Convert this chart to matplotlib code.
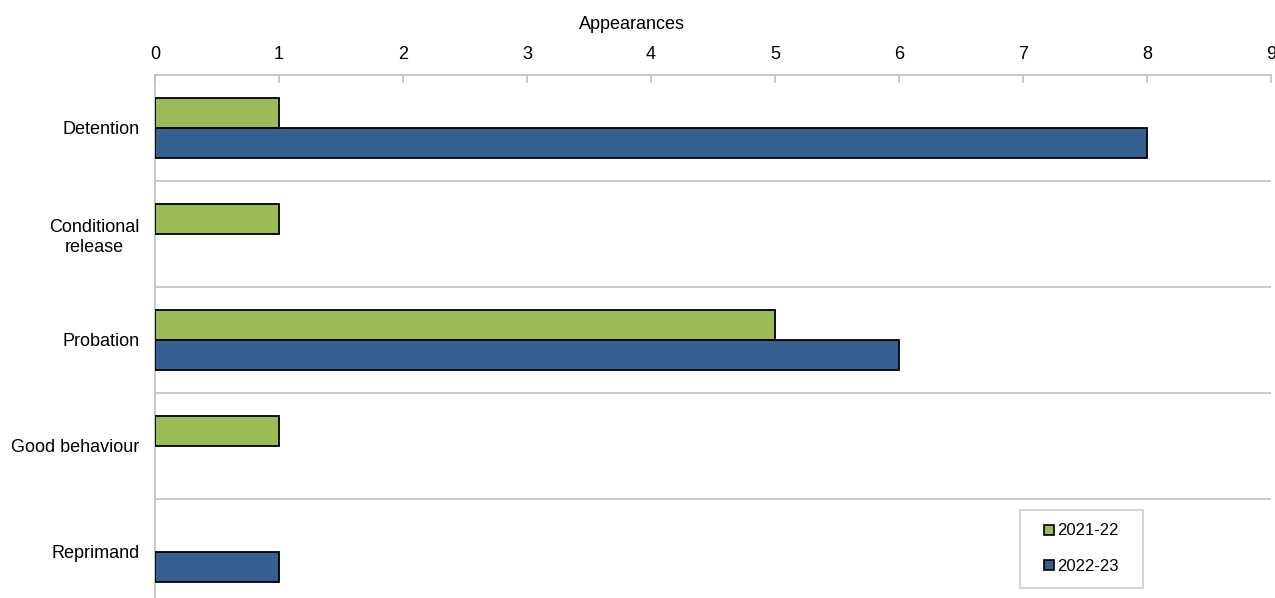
import numpy as np
import matplotlib
matplotlib.use('Agg')
import matplotlib.pyplot as plt
from matplotlib.lines import Line2D

plt.rcParams['font.family'] = ['Liberation Sans', 'DejaVu Sans']

categories = ['Detention', 'Conditional\nrelease', 'Probation', 'Good behaviour', 'Reprimand']
series_names = ['2021-22', '2022-23']
values_2122 = [1, 1, 5, 1, 0]
values_2223 = [8, 0, 6, 0, 1]
xticks = [0, 1, 2, 3, 4, 5, 6, 7, 8, 9]

green = '#9BBB59'
blue = '#376092'

fig = plt.figure(figsize=(12.75, 5.98), dpi=100)
ax = fig.add_axes([155/1275, -7/598, 1116/1275, 530/598])

y = np.arange(len(categories))
h = 0.283
b1 = ax.barh(y - h/2, values_2122, height=h, color=green, edgecolor='black', linewidth=1.3, zorder=3)
b2 = ax.barh(y + h/2, values_2223, height=h, color=blue, edgecolor='black', linewidth=1.3, zorder=3)
# zero bars should not leave an outline on the axis
for bars, vals in ((b1, values_2122), (b2, values_2223)):
    for bar, v in zip(bars, vals):
        if v == 0:
            bar.set_linewidth(0)

ax.set_xlim(0, 9)
ax.set_ylim(len(categories) - 0.5, -0.5)
ax.set_yticks(y)
ax.set_yticklabels(categories, fontsize=13, linespacing=1.2, multialignment='center')
ax.tick_params(axis='y', length=0, pad=11)
ax.set_yticks(np.arange(len(categories)) + 0.5, minor=True)
ax.tick_params(axis='y', which='minor', length=0)
ax.grid(True, axis='y', which='minor', color='#c0c0c0', linewidth=1.2, zorder=0)

ax.xaxis.tick_top()
ax.xaxis.set_label_position('top')
ax.set_xticks(xticks)
ax.tick_params(axis='x', direction='in', length=6, color='#c0c0c0', width=1.2, labelsize=13, pad=8.5)
ax.set_xlabel('Appearances', fontsize=13)
ax.xaxis.set_label_coords((632 - 155) / 1116, 1 + 46 / 530)

for side in ('right', 'bottom'):
    ax.spines[side].set_visible(False)
for side in ('top', 'left'):
    ax.spines[side].set_color('#c0c0c0')
    ax.spines[side].set_linewidth(1.2)

handles = [Line2D([], [], marker='s', linestyle='none', markersize=7, markerfacecolor=c,
                  markeredgecolor='black', markeredgewidth=1.2) for c in (green, blue)]
leg = fig.legend(handles, series_names, loc='upper left',
                 bbox_to_anchor=(1020/1275, 1 - 586/598, 123/1275, 76/598), mode='expand',
                 fontsize=12, frameon=True, fancybox=False, edgecolor='#c0c0c0',
                 handlelength=1.9, handletextpad=-0.45, labelspacing=1.25, borderpad=0.8,
                 borderaxespad=0)
leg.get_frame().set_linewidth(1.2)

fig.savefig('out.png', dpi=100)
